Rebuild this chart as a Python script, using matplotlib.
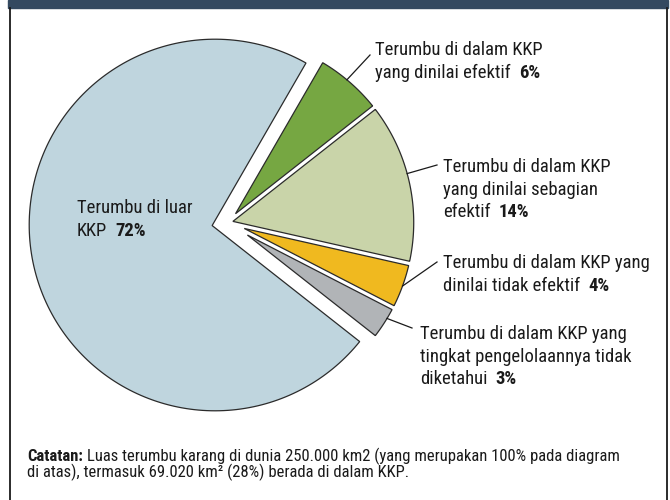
import numpy as np
import matplotlib.pyplot as plt
from matplotlib import font_manager as fm
from matplotlib.patches import Polygon, Rectangle
from matplotlib.lines import Line2D

# share of world reef area (%)
labels = ['Terumbu di dalam KKP\nyang dinilai efektif',
          'Terumbu di dalam KKP\nyang dinilai sebagian\nefektif',
          'Terumbu di dalam KKP yang\ndinilai tidak efektif',
          'Terumbu di dalam KKP yang\ntingkat pengelolaannya tidak\ndiketahui',
          'Terumbu di luar\nKKP']
values = [6, 14, 4, 3, 72]
colors = ['#76a742', '#c9d4a9', '#f0b91f', '#b1b4b7', '#bfd5de']

note_bold = 'Catatan:'
note_lines = ['Luas terumbu karang di dunia 250.000 km2 (yang merupakan 100% pada diagram',
              'di atas), termasuk 69.020 km\u00b2 (28%) berada di dalam KKP.']


def pick_font():
    fonts = fm.fontManager.ttflist
    names = {f.name for f in fonts}
    for n in ['Liberation Sans Narrow', 'Roboto Condensed', 'Open Sans Condensed',
              'Noto Sans Condensed', 'DejaVu Sans Condensed']:
        if n in names:
            return n, 'normal'
    for f in fonts:
        if f.stretch in ('condensed', 'semi-condensed') and f.weight in (400, 'normal'):
            return f.name, f.stretch
    return 'Roboto', 'normal'


fam, stretch = pick_font()
plt.rcParams['font.family'] = [fam, 'DejaVu Sans']
plt.rcParams['font.stretch'] = stretch

W, H = 670, 500
R_PX = 188.0
CX, CY = 215.0, 225.0


def px(x, y):
    return (x - CX) / R_PX, (CY - y) / R_PX


fig = plt.figure(figsize=(W / 100, H / 100), dpi=100)
ax = fig.add_axes([0, 0, 1, 1])

wedges, _ = ax.pie(values, colors=colors, startangle=60, counterclock=False, radius=1)

# push the four KKP slices out together, along the middle of the group
mid = np.deg2rad((wedges[0].theta2 + wedges[3].theta1) / 2)
shift = 0.07
gap = 2.2 / R_PX


def inset_slice(cx, cy, r, t1, t2, g):
    # slice shrunk by g on every side, so neighbours keep a white gap
    a1, a2 = np.deg2rad(t1), np.deg2rad(t2)
    half = (a2 - a1) / 2
    bis = a1 + half
    d = g / np.sin(half)
    apex = (cx + d * np.cos(bis), cy + d * np.sin(bis))
    rr = r - g
    da = np.arcsin(g / rr)
    arc = np.linspace(a1 + da, a2 - da, 200)
    pts = [apex] + list(zip(cx + rr * np.cos(arc), cy + rr * np.sin(arc)))
    return pts


for i, w in enumerate(wedges):
    cx, cy = w.center
    if i < 4:
        cx += shift * np.cos(mid)
        cy += shift * np.sin(mid)
    pts = inset_slice(cx, cy, w.r, w.theta1, w.theta2, gap)
    ax.add_patch(Polygon(pts, closed=True, facecolor=w.get_facecolor(),
                         edgecolor='#2b2b2b', linewidth=0.9))
    w.set_visible(False)
    w.center = (cx, cy)

ax.set_xlim(-CX / R_PX, (W - CX) / R_PX)
ax.set_ylim(-(H - CY) / R_PX, CY / R_PX)
ax.axis('off')

fig.canvas.draw()
renderer = fig.canvas.get_renderer()


def fit_size(text, target, weight='normal'):
    t = ax.text(0, 0, text, fontsize=10, weight=weight)
    wpx = t.get_window_extent(renderer).width
    t.remove()
    return 10 * target / wpx


LBL = min(fit_size('Terumbu di dalam KKP', 167), 14.5)
NOTE = min(fit_size(note_bold + ' ' + note_lines[0], 606), 12)


def label(x, y, text, pct, step=22.5):
    lines = text.split('\n')
    for i, line in enumerate(lines):
        yy = y + i * step
        t = ax.text(*px(x, yy), line, fontsize=LBL, va='baseline', ha='left',
                    color='#1a1a1a')
        if i == len(lines) - 1:
            bb = t.get_window_extent(renderer)
            ax.text(*px(bb.x1 + 8, yy), f'{pct}%', fontsize=LBL, va='baseline',
                    ha='left', weight='bold', color='#1a1a1a')


def leader(w, frac, x1, y1):
    ang = np.deg2rad(w.theta1 + frac * (w.theta2 - w.theta1))
    x0 = w.center[0] + (w.r - gap) * np.cos(ang)
    y0 = w.center[1] + (w.r - gap) * np.sin(ang)
    ax.plot([x0, px(x1, y1)[0]], [y0, px(x1, y1)[1]], color='#1a1a1a', lw=0.9)


label(375, 55, labels[0], values[0])
label(443, 172, labels[1], values[1])
label(443, 268, labels[2], values[2])
label(420, 339, labels[3], values[3])
label(77, 213, labels[4], values[4])

leader(wedges[0], 0.55, 370, 55)
leader(wedges[1], 0.55, 437, 165)
leader(wedges[2], 0.5, 437, 262)
leader(wedges[3], 0.65, 412, 328)

# footnote
t = ax.text(*px(27, 461), note_bold, fontsize=NOTE, weight='bold', va='baseline',
            color='#1a1a1a')
bb = t.get_window_extent(renderer)
ax.text(*px(bb.x1 + 4, 461), note_lines[0], fontsize=NOTE, va='baseline',
        color='#1a1a1a')
ax.text(*px(27, 477), note_lines[1], fontsize=NOTE, va='baseline',
        color='#1a1a1a')

# box: dark header band and side borders
fig.patches.append(Rectangle((8 / W, 1 - 8 / H), 660 / W, 8 / H,
                             transform=fig.transFigure, color='#344960'))
fig.lines.append(Line2D([9.5 / W, 9.5 / W], [0, 1 - 8 / H], transform=fig.transFigure,
                        color='#1a1a1a', lw=1.3))
fig.lines.append(Line2D([667 / W, 667 / W], [0, 1 - 8 / H], transform=fig.transFigure,
                        color='#1a1a1a', lw=1.3))

fig.savefig('out.png', dpi=100)
